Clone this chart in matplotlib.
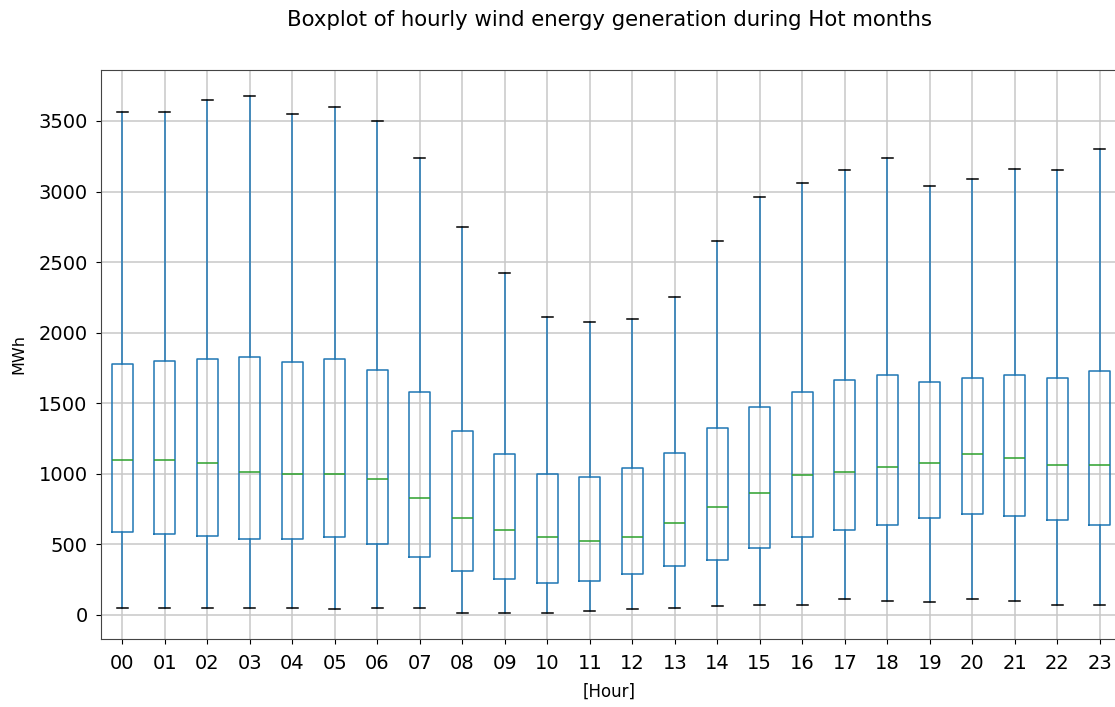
import matplotlib
matplotlib.use("Agg")
import matplotlib.pyplot as plt
from matplotlib.transforms import blended_transform_factory

hours = ["00", "01", "02", "03", "04", "05", "06", "07", "08", "09", "10", "11",
         "12", "13", "14", "15", "16", "17", "18", "19", "20", "21", "22", "23"]
whisker_low = [50, 50, 50, 50, 50, 38, 50, 50, 12, 12, 12, 26,
               38, 50, 62, 73, 73, 112, 100, 88, 112, 100, 73, 73]
q1 = [588, 574, 562, 536, 536, 550, 500, 410, 313, 251, 225, 240,
      287, 349, 389, 474, 550, 600, 638, 688, 713, 699, 674, 638]
median = [1100, 1100, 1074, 1012, 1000, 1000, 962, 825, 688, 600, 550, 526,
          550, 652, 763, 863, 989, 1012, 1050, 1074, 1138, 1112, 1062, 1062]
q3 = [1778, 1799, 1811, 1826, 1790, 1811, 1738, 1579, 1302, 1138, 1000, 977,
      1038, 1147, 1325, 1474, 1577, 1662, 1700, 1650, 1676, 1700, 1676, 1726]
whisker_high = [3562, 3562, 3651, 3678, 3552, 3600, 3500, 3237, 2749, 2424, 2109, 2074,
                2099, 2249, 2649, 2962, 3062, 3149, 3239, 3036, 3087, 3161, 3149, 3301]

stats = []
for i, h in enumerate(hours):
    stats.append(dict(label=h, whislo=whisker_low[i], q1=q1[i], med=median[i],
                      q3=q3[i], whishi=whisker_high[i], fliers=[]))

fig = plt.figure(figsize=(11.15, 7.07), dpi=100)
ax = fig.add_axes([0.0906, 0.0962, 0.9148, 0.8048])

ax.bxp(stats, widths=0.5, showfliers=False,
       boxprops=dict(color="#1f77b4", linewidth=1.1),
       whiskerprops=dict(color="#1f77b4", linewidth=1.1),
       capprops=dict(color="black", linewidth=1.1),
       medianprops=dict(color="#2ca02c", linewidth=1.1))

ax.grid(True, color="#c8c8c8", linewidth=1.1)
ax.set_axisbelow(True)
ax.set_yticks([0, 500, 1000, 1500, 2000, 2500, 3000, 3500])
ax.tick_params(axis="both", labelsize=14)
ax.tick_params(axis="x", pad=7.3)
ax.tick_params(axis="y", pad=6.2)
ax.set_ylabel("MWh", fontsize=11.5)
ax.set_xlabel("[Hour]", fontsize=12)
ax.yaxis.set_label_coords(26 / 1115, 0.5,
                          transform=blended_transform_factory(fig.transFigure, ax.transAxes))
ax.xaxis.set_label_coords(0.4985, 1 - 683 / 707,
                          transform=blended_transform_factory(ax.transAxes, fig.transFigure))
for s in ax.spines.values():
    s.set_color("#444444")

fig.suptitle("Boxplot of hourly wind energy generation during Hot months",
             x=0.5466, y=0.9717, va="center", fontsize=15.3)

fig.savefig("out.png", dpi=100)
